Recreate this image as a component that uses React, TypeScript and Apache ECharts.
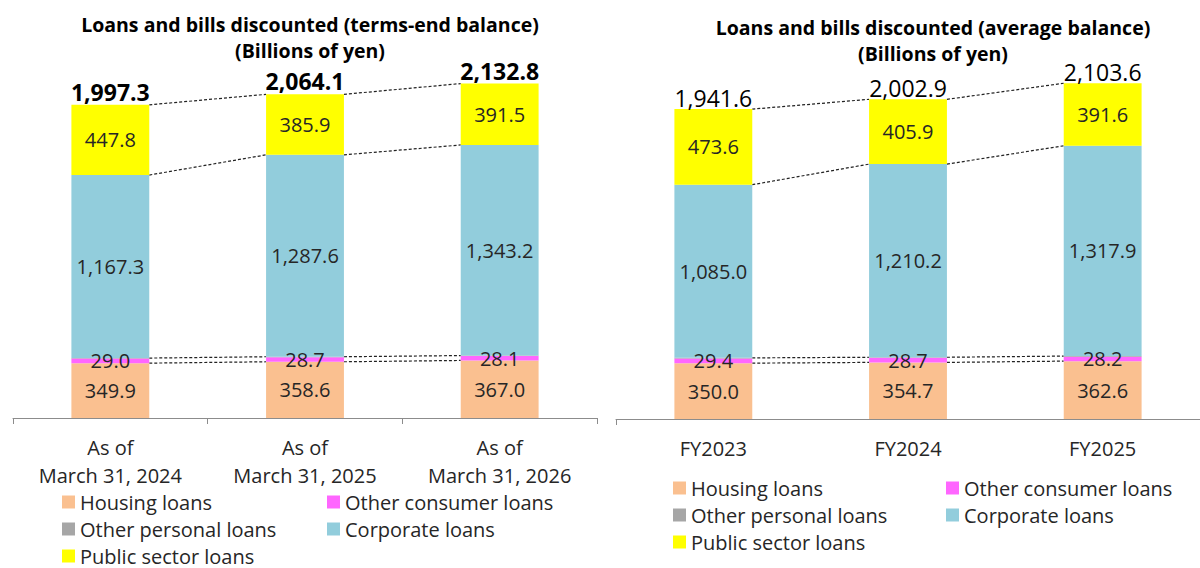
import React, { useEffect, useRef } from 'react';
import * as echarts from 'echarts';

// ---------- data ----------
const leftCategories = ['As of\nMarch 31, 2024', 'As of\nMarch 31, 2025', 'As of\nMarch 31, 2026'];
const rightCategories = ['FY2023', 'FY2024', 'FY2025'];
const seriesNames = [
  'Housing loans',
  'Other consumer loans',
  'Other personal loans',
  'Corporate loans',
  'Public sector loans',
];

const leftHousing = [349.9, 358.6, 367.0];
const leftConsumer = [29.0, 28.7, 28.1];
const leftPersonal = [3.3, 3.3, 3.0];
const leftCorporate = [1167.3, 1287.6, 1343.2];
const leftPublic = [447.8, 385.9, 391.5];
const leftTotals = [1997.3, 2064.1, 2132.8];

const rightHousing = [350.0, 354.7, 362.6];
const rightConsumer = [29.4, 28.7, 28.2];
const rightPersonal = [3.6, 3.4, 3.3];
const rightCorporate = [1085.0, 1210.2, 1317.9];
const rightPublic = [473.6, 405.9, 391.6];
const rightTotals = [1941.6, 2002.9, 2103.6];

// ---------- style ----------
const FONT = "'Open Sans', 'Noto Sans', sans-serif";
const colors = ['#FAC090', '#FF66FF', '#A6A6A6', '#92CDDC', '#FFFF00'];
const labelShow = [true, true, false, true, true];
const BAR_FRACTION = 0.4;

const fmt = (v: number) =>
  v.toLocaleString('en-US', { minimumFractionDigits: 1, maximumFractionDigits: 1 });

function buildSeries(idx: number, segs: number[][], totals: number[], totalBold: boolean, totalDist: number) {
  const out: any[] = [];
  segs.forEach((vals, k) => {
    out.push({
      name: seriesNames[k],
      type: 'bar',
      stack: 'stack' + idx,
      xAxisIndex: idx,
      yAxisIndex: idx,
      barWidth: BAR_FRACTION * 100 + '%',
      itemStyle: { color: colors[k] },
      label: {
        show: labelShow[k],
        position: 'inside',
        fontFamily: FONT,
        fontSize: 20,
        color: '#262626',
        formatter: (p: any) => fmt(p.value),
      },
      data: vals,
    });
  });
  // totals above bars
  out.push({
    type: 'scatter',
    xAxisIndex: idx,
    yAxisIndex: idx,
    symbolSize: 0.01,
    silent: true,
    itemStyle: { opacity: 1, color: '#000' },
    label: {
      show: true,
      position: 'top',
      distance: totalDist,
      fontFamily: FONT,
      fontSize: 23,
      lineHeight: 24,
      fontWeight: totalBold ? 'bold' : 'normal',
      color: '#000',
      formatter: (p: any) => fmt(p.value),
    },
    data: totals,
  });
  // dashed connectors between bars
  const n = totals.length;
  const housingTop = segs[0].map((v) => v);
  const consumerTop = segs[0].map((v, i) => v + segs[1][i] + segs[2][i]);
  const corpTop = segs[0].map((v, i) => v + segs[1][i] + segs[2][i] + segs[3][i]);
  const cum: number[][] = [housingTop, consumerTop, corpTop, totals];
  const lineData: number[][] = [];
  cum.forEach((arr) => {
    for (let i = 0; i < n - 1; i++) lineData.push([i, arr[i], arr[i + 1]]);
  });
  out.push({
    type: 'custom',
    xAxisIndex: idx,
    yAxisIndex: idx,
    silent: true,
    renderItem: (params: any, api: any) => {
      const i = api.value(0);
      const p0 = api.coord([i, api.value(1)]);
      const p1 = api.coord([i + 1, api.value(2)]);
      const hb = (api.size([1, 0])[0] * BAR_FRACTION) / 2;
      return {
        type: 'line',
        shape: { x1: p0[0] + hb, y1: p0[1], x2: p1[0] - hb, y2: p1[1] },
        style: { stroke: '#222', lineWidth: 1.2, lineDash: [3, 2] },
      };
    },
    encode: { x: 0, y: [1, 2] },
    data: lineData,
  });
  return out;
}

function xAxisFor(idx: number, cats: string[], tickInterval: any) {
  return {
    type: 'category',
    gridIndex: idx,
    data: cats,
    axisLine: { show: true, lineStyle: { color: '#8c8c8c', width: 1 } },
    axisTick: { show: true, length: 6, interval: tickInterval, lineStyle: { color: '#8c8c8c' } },
    axisLabel: {
      fontFamily: FONT,
      fontSize: 20,
      color: '#262626',
      lineHeight: 28,
      margin: 15,
      interval: 0,
    },
  };
}

function legendCol(left: number, top: number, names: string[]) {
  return {
    orient: 'vertical',
    left,
    top,
    itemWidth: 13,
    itemHeight: 13,
    itemGap: 7,
    icon: 'rect',
    padding: 0,
    selectedMode: false,
    textStyle: { fontFamily: FONT, fontSize: 20, lineHeight: 20, color: '#262626' },
    data: names,
  };
}

export default function App() {
  const ref = useRef<HTMLDivElement>(null);
  useEffect(() => {
    if (!ref.current) return;
    const chart = echarts.init(ref.current, null, { renderer: 'svg' });
    const titleStyle = { fontFamily: FONT, fontSize: 19.5, fontWeight: 'bold', color: '#000', lineHeight: 26 };
    const option: any = {
      animation: false,
      title: [
        {
          text: 'Loans and bills discounted (terms-end balance)\n(Billions of yen)',
          left: 310,
          top: 11,
          textAlign: 'center',
          padding: 0,
          textStyle: titleStyle,
        },
        {
          text: 'Loans and bills discounted (average balance)\n(Billions of yen)',
          left: 933,
          top: 14,
          textAlign: 'center',
          padding: 0,
          textStyle: titleStyle,
        },
      ],
      legend: [
        legendCol(62, 492, [seriesNames[0], seriesNames[2], seriesNames[4]]),
        legendCol(327, 492, [seriesNames[1], seriesNames[3]]),
        legendCol(673, 478, [seriesNames[0], seriesNames[2], seriesNames[4]]),
        legendCol(946, 478, [seriesNames[1], seriesNames[3]]),
      ],
      grid: [
        { left: 13, right: 603, top: 26, bottom: 150 },
        { left: 616, right: -4, top: 20, bottom: 149 },
      ],
      xAxis: [
        xAxisFor(0, leftCategories, 0),
        xAxisFor(1, rightCategories, (i: number) => i === 0),
      ],
      yAxis: [
        { type: 'value', gridIndex: 0, min: 0, max: 2500, show: false, splitLine: { show: false } },
        { type: 'value', gridIndex: 1, min: 0, max: 2500, show: false, splitLine: { show: false } },
      ],
      series: [
        ...buildSeries(0, [leftHousing, leftConsumer, leftPersonal, leftCorporate, leftPublic], leftTotals, true, 1),
        ...buildSeries(1, [rightHousing, rightConsumer, rightPersonal, rightCorporate, rightPublic], rightTotals, false, -1),
      ],
    };
    chart.setOption(option);
    return () => chart.dispose();
  }, []);
  return (
    <div
      ref={ref}
      style={{ position: 'absolute', left: 0, top: 0, width: 1200, height: 568, background: '#fff' }}
    />
  );
}
